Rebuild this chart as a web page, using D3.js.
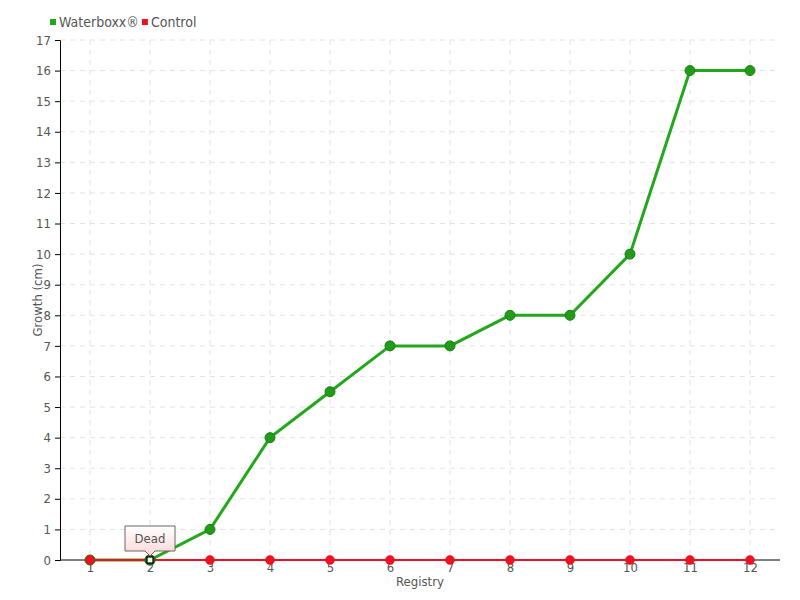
<!DOCTYPE html>
<html>
<head>
<meta charset="utf-8">
<script src="https://cdn.jsdelivr.net/npm/d3@7"></script>
<style>
body { margin: 0; background: #fff; }
text { font-family: "DejaVu Sans Condensed", "DejaVu Sans", sans-serif; font-stretch: condensed; fill: #555; }
</style>
</head>
<body>
<svg id="chart" width="800" height="600"></svg>
<script>
const registries = ['1','2','3','4','5','6','7','8','9','10','11','12']
const waterboxx = [0, 0, 1, 4, 5.5, 7, 7, 8, 8, 10, 16, 16]
const control = [0, 0, 0, 0, 0, 0, 0, 0, 0, 0, 0, 0]
const yTicks = d3.range(0, 18)
const seriesNames = ['Waterboxx®', 'Control']
const seriesColors = ['#22a81a', '#ee1122']

const svg = d3.select('#chart')
const margin = {left: 60, right: 20, top: 40, bottom: 40}
const width = 800, height = 600

const x = d3.scalePoint()
	.domain(registries)
	.range([margin.left, width - margin.right])
	.padding(0.5)
const y = d3.scaleLinear()
	.domain([0, 17])
	.range([height - margin.bottom, margin.top])

// grid
svg.append('g').selectAll('line.h')
	.data(yTicks.slice(1))
	.join('line')
	.attr('x1', margin.left).attr('x2', width - margin.right)
	.attr('y1', d => y(d)).attr('y2', d => y(d))
	.attr('stroke', '#e2e2e2').attr('stroke-dasharray', '5,5')
svg.append('g').selectAll('line.v')
	.data(registries)
	.join('line')
	.attr('x1', d => x(d)).attr('x2', d => x(d))
	.attr('y1', margin.top).attr('y2', height - margin.bottom)
	.attr('stroke', '#e2e2e2').attr('stroke-dasharray', '5,5')

// axes
const yAxis = svg.append('g')
	.attr('transform', `translate(${margin.left},0)`)
	.call(d3.axisLeft(y).tickValues(yTicks).tickSize(5).tickPadding(4).tickFormat(d3.format('d')))
yAxis.select('.domain').attr('stroke', '#000')
yAxis.selectAll('.tick line').attr('stroke', '#000')
yAxis.selectAll('text').attr('font-size', 13).style('fill', '#555')

const xAxis = svg.append('g')
	.attr('transform', `translate(0,${height - margin.bottom})`)
	.call(d3.axisBottom(x).tickSize(0).tickPadding(3).tickSizeOuter(0))
xAxis.select('.domain').attr('stroke', '#000').attr('d', `M${margin.left},0H${width - margin.right}`)
xAxis.selectAll('text').attr('font-size', 13).style('fill', '#555')

svg.append('text')
	.attr('x', (margin.left + width - margin.right) / 2)
	.attr('y', 586)
	.attr('text-anchor', 'middle')
	.attr('font-size', 13)
	.text('Registry')
svg.append('text')
	.attr('transform', `translate(42,${(margin.top + height - margin.bottom) / 2}) rotate(-90)`)
	.attr('text-anchor', 'middle')
	.attr('font-size', 13)
	.text('Growth (cm)')

// lines
const line = d3.line()
	.x((d, i) => x(registries[i]))
	.y(d => y(d))

svg.append('path')
	.datum(waterboxx)
	.attr('d', line)
	.attr('fill', 'none')
	.attr('stroke', seriesColors[0])
	.attr('stroke-width', 3)

svg.append('path')
	.datum(control)
	.attr('d', line)
	.attr('fill', 'none')
	.attr('stroke', seriesColors[1])
	.attr('stroke-width', 2)

svg.append('g').selectAll('circle')
	.data(waterboxx)
	.join('circle')
	.attr('cx', (d, i) => x(registries[i]))
	.attr('cy', d => y(d))
	.attr('r', 5)
	.attr('fill', '#229a1a')
	.attr('stroke', '#1a7f14')
	.attr('stroke-width', 1)

svg.append('g').selectAll('circle')
	.data(control)
	.join('circle')
	.attr('cx', (d, i) => x(registries[i]))
	.attr('cy', d => y(d))
	.attr('r', 4.5)
	.attr('fill', '#ee1122')
	.attr('stroke', '#cc1020')
	.attr('stroke-width', 0.5)

// highlighted point with tooltip
const hx = x(registries[1]), hy = y(waterboxx[1])
svg.append('circle')
	.attr('cx', hx).attr('cy', hy).attr('r', 5.5)
	.attr('fill', '#2a6a14')
svg.append('rect')
	.attr('x', hx - 3).attr('y', hy - 3).attr('width', 6).attr('height', 6)
	.attr('fill', '#fff').attr('stroke', '#000').attr('stroke-width', 1.2)

const defs = svg.append('defs')
const grad = defs.append('linearGradient').attr('id', 'tipg').attr('x1', 0).attr('y1', 0).attr('x2', 0).attr('y2', 1)
grad.append('stop').attr('offset', '0%').attr('stop-color', '#fff')
grad.append('stop').attr('offset', '100%').attr('stop-color', '#fcd6d6')

const tw = 50, th = 25, tx = hx - 25, ty = hy - 34
svg.append('path')
	.attr('d', `M${tx},${ty}H${tx + tw}V${ty + th}H${hx + 5}L${hx},${hy - 4}L${hx - 5},${ty + th}H${tx}Z`)
	.attr('fill', 'url(#tipg)')
	.attr('stroke', '#666')
	.attr('stroke-width', 1)
svg.append('text')
	.attr('x', hx).attr('y', ty + 17)
	.attr('text-anchor', 'middle')
	.attr('font-size', 13)
	.text('Dead')

// legend
const legend = svg.append('g').attr('transform', 'translate(50,22)')
let lx = 0
seriesNames.forEach((name, i) => {
	legend.append('rect')
		.attr('x', lx).attr('y', -3).attr('width', 6).attr('height', 6)
		.attr('fill', seriesColors[i])
	const t = legend.append('text')
		.attr('x', lx + 9).attr('y', 5)
		.attr('font-size', 14)
		.text(name)
	lx += 9 + t.node().getComputedTextLength() + 3
})
</script>
</body>
</html>
